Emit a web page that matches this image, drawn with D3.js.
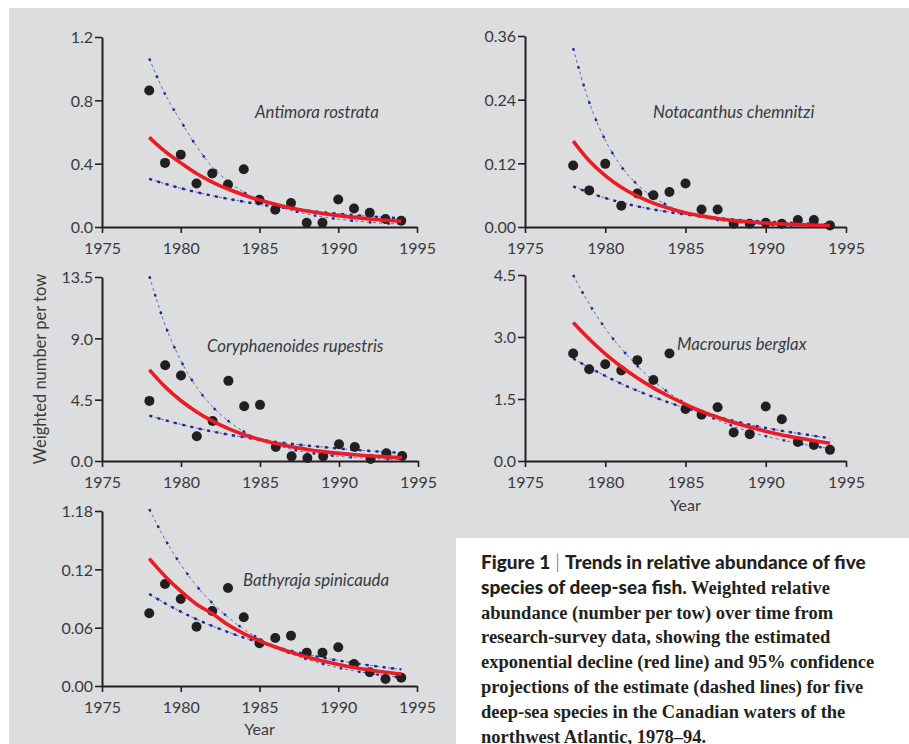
<!DOCTYPE html>
<html><head><meta charset="utf-8">
<script src="https://cdn.jsdelivr.net/npm/d3@7"></script>
<style>
html,body{margin:0;padding:0;background:#fff;}
svg{display:block;}
</style></head>
<body>
<svg id="c" width="909" height="744"></svg>
<script>
// ---------- DATA ----------
const years = [1978,1979,1980,1981,1982,1983,1984,1985,1986,1987,1988,1989,1990,1991,1992,1993,1994];

const antimoraObs   = [0.862,0.405,0.457,0.275,0.338,0.268,0.365,0.172,0.109,0.151,0.027,0.027,0.174,0.117,0.090,0.050,0.040];
const antimoraFit   = [0.566,0.477,0.405,0.338,0.284,0.240,0.202,0.170,0.143,0.120,0.101,0.085,0.072,0.061,0.051,0.043,0.036];
const antimoraUpper = [1.064,0.84,0.67,0.51,0.38,0.29,0.22,0.17,0.135,0.105,0.082,0.064,0.050,0.039,0.030,0.023,0.018];
const antimoraLower = [0.304,0.273,0.245,0.220,0.198,0.178,0.160,0.143,0.129,0.116,0.104,0.093,0.084,0.075,0.068,0.061,0.055];

const notacanthusObs   = [0.116,0.069,0.119,0.040,0.063,0.060,0.066,0.082,0.033,0.033,0.006,0.006,0.008,0.006,0.013,0.013,0.003];
const notacanthusFit   = [0.162,0.125,0.097,0.075,0.058,0.045,0.035,0.027,0.021,0.016,0.012,0.0096,0.0074,0.0057,0.0044,0.0034,0.0027];
const notacanthusUpper = [0.337,0.235,0.164,0.114,0.080,0.056,0.039,0.027,0.019,0.013,0.0092,0.0064,0.0045,0.0031,0.0022,0.0015,0.0011];
const notacanthusLower = [0.0765,0.0647,0.0547,0.0462,0.0390,0.0330,0.0279,0.0236,0.0199,0.0168,0.0142,0.0120,0.0102,0.0086,0.0073,0.0061,0.0052];

const coryphObs   = [4.41,7.03,6.27,1.81,2.94,5.88,4.02,4.12,1.03,0.34,0.22,0.34,1.23,1.03,0.15,0.56,0.37];
const coryphFit   = [6.69,5.44,4.42,3.60,2.92,2.38,1.93,1.57,1.28,1.04,0.85,0.69,0.56,0.46,0.37,0.30,0.25];
const coryphUpper = [13.55,9.97,7.34,5.40,3.98,2.93,2.15,1.59,1.17,0.86,0.63,0.47,0.34,0.25,0.19,0.14,0.10];
const coryphLower = [3.33,2.99,2.69,2.41,2.16,1.94,1.74,1.56,1.40,1.26,1.13,1.02,0.91,0.82,0.73,0.66,0.59];

const macrourusObs   = [2.60,2.22,2.34,2.19,2.44,1.96,2.60,1.26,1.12,1.30,0.69,0.65,1.32,1.01,0.46,0.39,0.27];
const macrourusFit   = [3.35,2.95,2.59,2.28,2.01,1.77,1.56,1.37,1.20,1.06,0.93,0.82,0.72,0.63,0.56,0.49,0.43];
const macrourusUpper = [4.50,3.80,3.21,2.72,2.30,1.94,1.64,1.39,1.17,0.99,0.84,0.71,0.60,0.51,0.43,0.36,0.30];
const macrourusLower = [2.48,2.26,2.06,1.87,1.70,1.55,1.41,1.28,1.17,1.07,0.97,0.88,0.80,0.73,0.67,0.61,0.55];

const bathyrajaObs   = [0.0748,0.105,0.0895,0.061,0.0772,0.1008,0.0707,0.0439,0.0494,0.0518,0.0343,0.0343,0.0398,0.0226,0.0141,0.0072,0.0086];
const bathyrajaFit   = [0.1310,0.1130,0.0975,0.0841,0.0745,0.0630,0.0539,0.0465,0.0401,0.0346,0.0298,0.0257,0.0222,0.0191,0.0165,0.0142,0.0123];
const bathyrajaUpper = [0.182,0.151,0.125,0.103,0.0854,0.0707,0.0585,0.0484,0.0401,0.0332,0.0275,0.0228,0.0188,0.0156,0.0129,0.0107,0.0088];
const bathyrajaLower = [0.0947,0.0851,0.0765,0.0687,0.0617,0.0555,0.0498,0.0448,0.0402,0.0361,0.0325,0.0292,0.0262,0.0236,0.0212,0.0190,0.0171];

const xTickValues = [1975,1980,1985,1990,1995];
const xTickLabels = ["1975","1980","1985","1990","1995"];
const antimoraTicks = [0,0.4,0.8,1.2];       const antimoraTickLabels = ["0.0","0.4","0.8","1.2"];
const notacanthusTicks = [0,0.12,0.24,0.36]; const notacanthusTickLabels = ["0.00","0.12","0.24","0.36"];
const coryphTicks = [0,4.5,9,13.5];          const coryphTickLabels = ["0.0","4.5","9.0","13.5"];
const macrourusTicks = [0,1.5,3,4.5];        const macrourusTickLabels = ["0.0","1.5","3.0","4.5"];
const bathyrajaTicks = [0,0.06,0.12,0.18];   const bathyrajaTickLabels = ["0.00","0.06","0.12","1.18"];

const speciesNames = ["Antimora rostrata","Notacanthus chemnitzi","Coryphaenoides rupestris","Macrourus berglax","Bathyraja spinicauda"];
const yAxisTitle = "Weighted number per tow";
const xAxisTitle = "Year";

// ---------- LAYOUT ----------
const svg = d3.select("#c");
svg.append("rect").attr("x",9).attr("y",8).attr("width",900).attr("height",736).attr("fill","#dcdddf");
svg.append("rect").attr("x",456).attr("y",538).attr("width",453).attr("height",206).attr("fill","#ffffff");

const SANS = "Lato, 'Open Sans', sans-serif";
const INK = "#231f20";
const TXT = "#3a3a3c";

const panels = [
  {obs:antimoraObs, fit:antimoraFit, up:antimoraUpper, lo:antimoraLower, ticks:antimoraTicks, tl:antimoraTickLabels,
   name:speciesNames[0], x0:102, x1:417, yb:227, yt:37, lx:255, ly:118, year:false},
  {obs:notacanthusObs, fit:notacanthusFit, up:notacanthusUpper, lo:notacanthusLower, ticks:notacanthusTicks, tl:notacanthusTickLabels,
   name:speciesNames[1], x0:525, x1:846, yb:227, yt:36, lx:653, ly:118, year:false},
  {obs:coryphObs, fit:coryphFit, up:coryphUpper, lo:coryphLower, ticks:coryphTicks, tl:coryphTickLabels,
   name:speciesNames[2], x0:102, x1:418, yb:461, yt:277, lx:207, ly:352, year:false},
  {obs:macrourusObs, fit:macrourusFit, up:macrourusUpper, lo:macrourusLower, ticks:macrourusTicks, tl:macrourusTickLabels,
   name:speciesNames[3], x0:525, x1:846, yb:461, yt:275, lx:677, ly:350, year:true, yearY:511},
  {obs:bathyrajaObs, fit:bathyrajaFit, up:bathyrajaUpper, lo:bathyrajaLower, ticks:bathyrajaTicks, tl:bathyrajaTickLabels,
   name:speciesNames[4], x0:102, x1:417, yb:686, yt:511, lx:243, ly:586, year:true, yearY:735}
];

panels.forEach(p => {
  const x = d3.scaleLinear().domain([1975,1995]).range([p.x0,p.x1]);
  const y = d3.scaleLinear().domain([p.ticks[0], p.ticks[p.ticks.length-1]]).range([p.yb,p.yt]);
  const g = svg.append("g");

  const xa = d3.axisBottom(x).tickValues(xTickValues).tickFormat((d,i)=>xTickLabels[i]).tickSize(6).tickSizeOuter(0).tickPadding(6);
  const ya = d3.axisLeft(y).tickValues(p.ticks).tickFormat((d,i)=>p.tl[i]).tickSize(7).tickSizeOuter(0).tickPadding(2);
  const gx = g.append("g").attr("transform",`translate(0,${p.yb})`).call(xa);
  const gy = g.append("g").attr("transform",`translate(${p.x0},0)`).call(ya);
  [gx,gy].forEach(a=>{
    a.select(".domain").attr("stroke",INK).attr("stroke-width",2);
    a.selectAll(".tick line").attr("stroke",INK).attr("stroke-width",1.6);
    a.selectAll(".tick text").attr("fill",TXT).style("font-family",SANS).style("font-size","16px").style("font-weight","400");
  });
  gx.selectAll(".tick text").attr("dy","0.92em");
  gy.selectAll(".tick text").attr("dy","0.36em");

  const line = d3.line().x((d,i)=>x(years[i])).y(d=>y(d)).curve(d3.curveMonotoneX);

  [p.up,p.lo].forEach((arr,k)=>{
    g.append("path").attr("d",line(arr)).attr("fill","none")
      .attr("stroke","#5a5ab8").attr("stroke-width",0.9).attr("stroke-dasharray","3 3");
    g.append("path").attr("d",line(arr)).attr("fill","none")
      .attr("stroke","#22229a").attr("stroke-width",2.4)
      .attr("stroke-dasharray", k===0 ? "2.5 16" : "3 5.5");
  });

  g.selectAll("circle.pt").data(p.obs).enter().append("circle")
    .attr("cx",(d,i)=>x(years[i])).attr("cy",d=>y(d)).attr("r",5).attr("fill",INK);

  g.append("path").attr("d",line(p.fit)).attr("fill","none")
    .attr("stroke","#ec1c24").attr("stroke-width",3.6).attr("stroke-linecap","butt");

  g.append("text").attr("x",p.lx).attr("y",p.ly).text(p.name)
    .attr("fill",TXT).style("font-family",SANS).style("font-style","italic").style("font-size","16.8px");

  if (p.year) {
    g.append("text").attr("x",(p.x0+p.x1)/2).attr("y",p.yearY).attr("text-anchor","middle").text(xAxisTitle)
      .attr("fill",TXT).style("font-family",SANS).style("font-size","16px");
  }
});

svg.append("text").attr("transform","translate(46,369) rotate(-90)").attr("text-anchor","middle")
  .text(yAxisTitle).attr("fill",TXT).style("font-family",SANS).style("font-size","16.5px");

// ---------- CAPTION ----------
const capLines = [
  [["b","Figure 1"],["s"," | "],["b","Trends in relative abundance of five"]],
  [["b","species of deep-sea fish."],["r"," Weighted relative"]],
  [["r","abundance (number per tow) over time from"]],
  [["r","research-survey data, showing the estimated"]],
  [["r","exponential decline (red line) and 95% confidence"]],
  [["r","projections of the estimate (dashed lines) for five"]],
  [["r","deep-sea species in the Canadian waters of the"]],
  [["r","northwest Atlantic, 1978–94."]]
];
const cap = svg.append("text").attr("x",481).attr("y",569).attr("fill",INK);
capLines.forEach((ln,i)=>{
  ln.forEach((seg,j)=>{
    const t = cap.append("tspan").text(seg[1]);
    if (j===0) t.attr("x",481).attr("y",569 + i*24.8);
    if (seg[0]==="b") t.style("font-family",SANS).style("font-weight","900").style("font-size","19px");
    else if (seg[0]==="s") t.style("font-family",SANS).style("font-weight","300").style("font-size","19px").attr("fill","#555");
    else t.style("font-family","'Liberation Serif', 'DejaVu Serif', serif").style("font-size","18.5px").style("font-weight","600");
  });
});
</script>
</body></html>
